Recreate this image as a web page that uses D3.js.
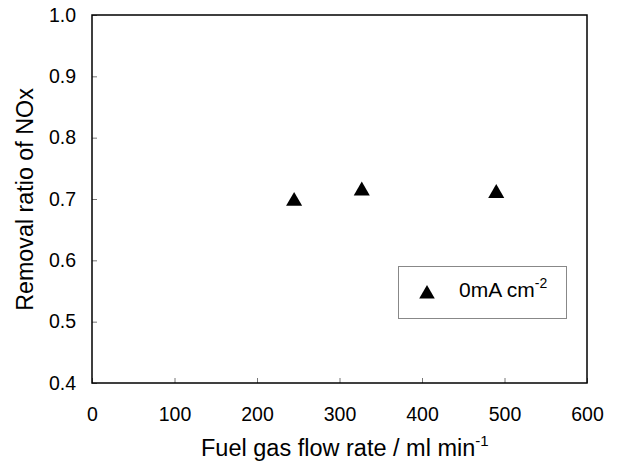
<!DOCTYPE html>
<html><head><meta charset="utf-8">
<script src="https://cdn.jsdelivr.net/npm/d3@7"></script>
<style>body{margin:0;background:#fff}svg{display:block}text{font-family:"Liberation Sans",Arial,sans-serif}</style>
</head><body>
<script>
const flowRates = [245, 327, 490];
const removalRatio = [0.698, 0.715, 0.711];
const xTicks = [0, 100, 200, 300, 400, 500, 600];
const yTicks = [0.4, 0.5, 0.6, 0.7, 0.8, 0.9, 1.0];
const seriesName = "0mA cm";

const W = 618, H = 466;
const m = {l: 92, t: 15, r: 31, b: 83};
const svg = d3.select("body").append("svg").attr("width", W).attr("height", H);
const x = d3.scaleLinear().domain([0, 600]).range([m.l, W - m.r]);
const y = d3.scaleLinear().domain([0.4, 1.0]).range([H - m.b, m.t]);

svg.append("g").attr("transform", `translate(0,${H - m.b})`)
  .call(d3.axisBottom(x).tickValues(xTicks).tickSizeInner(-5).tickSizeOuter(0).tickPadding(24).tickFormat(d3.format("d")))
  .call(g => { g.select(".domain").remove(); g.selectAll("line").attr("stroke", "#777");
    g.selectAll("text").attr("font-size", 19.5).attr("fill", "#000"); });
svg.append("g").attr("transform", `translate(${m.l},0)`)
  .call(d3.axisLeft(y).tickValues(yTicks).tickSizeInner(-5).tickSizeOuter(0).tickPadding(16).tickFormat(d3.format(".1f")))
  .call(g => { g.select(".domain").remove(); g.selectAll("line").attr("stroke", "#777");
    g.selectAll("text").attr("font-size", 19.5).attr("fill", "#000"); });

// frame
svg.append("rect").attr("x", x(0)).attr("y", y(1.0)).attr("width", x(600) - x(0)).attr("height", y(0.4) - y(1.0))
  .attr("fill", "none").attr("stroke", "#000").attr("stroke-width", 1.5);

const tri = d3.symbol().type(d3.symbolTriangle).size(112);
svg.append("g").selectAll("path").data(flowRates).join("path")
  .attr("d", tri).attr("transform", (d, i) => `translate(${x(d)},${y(removalRatio[i]) + 1})`).attr("fill", "#000");

// legend
const lg = svg.append("g");
lg.append("rect").attr("x", 398.5).attr("y", 266.5).attr("width", 168).attr("height", 52)
  .attr("fill", "#fff").attr("stroke", "#888").attr("stroke-width", 1);
lg.append("path").attr("d", d3.symbol().type(d3.symbolTriangle).size(105)).attr("transform", "translate(427,294)").attr("fill", "#000");
const lt = lg.append("text").attr("x", 459).attr("y", 297).attr("font-size", 21).attr("fill", "#000");
lt.append("tspan").text(seriesName);
lt.append("tspan").attr("dy", -9).attr("font-size", 14).text("-2");

// axis titles
const xt = svg.append("text").attr("x", 201).attr("y", 456).attr("font-size", 23.5);
xt.append("tspan").text("Fuel gas flow rate / ml min");
xt.append("tspan").attr("dy", -10).attr("font-size", 15).text("-1");
svg.append("text").attr("transform", `translate(32.5,199.5) rotate(-90)`)
  .attr("text-anchor", "middle").attr("font-size", 23.3).text("Removal ratio of NOx");
</script>
</body></html>
